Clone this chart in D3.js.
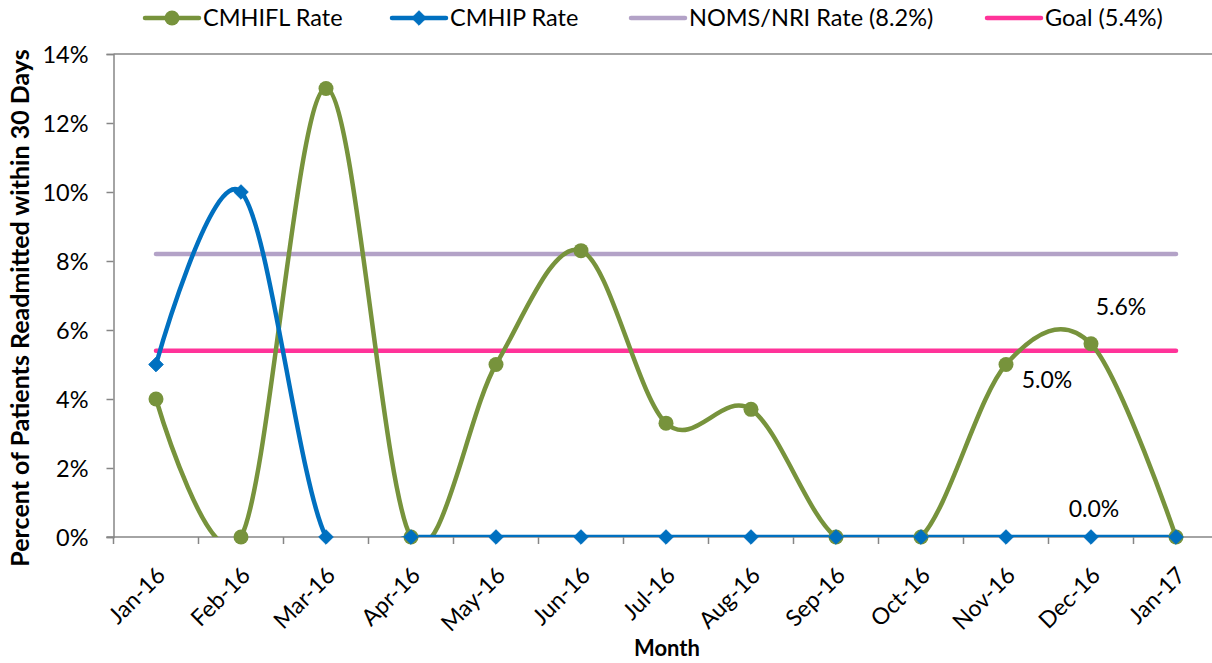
<!DOCTYPE html>
<html>
<head>
<meta charset="utf-8">
<script src="https://cdn.jsdelivr.net/npm/d3@7"></script>
<style>
  body { margin: 0; background: #fff; }
  svg text { font-family: Lato, "Open Sans", sans-serif; fill: #000; }
</style>
</head>
<body>
<svg id="chart" width="1212" height="663"></svg>
<script>
"use strict";

// 데이터
const months = ["Jan-16", "Feb-16", "Mar-16", "Apr-16", "May-16", "Jun-16", "Jul-16",
  "Aug-16", "Sep-16", "Oct-16", "Nov-16", "Dec-16", "Jan-17"];
const cmhiflRate = [4.0, 0, 13.0, 0, 5.0, 8.3, 3.3, 3.7, 0, 0, 5.0, 5.6, 0];
const cmhipRate = [5.0, 10.0, 0, 0, 0, 0, 0, 0, 0, 0, 0, 0, 0];
const nomsRate = 8.2;
const goalRate = 5.4;
const yTicks = [0, 2, 4, 6, 8, 10, 12, 14];
const legendNames = ["CMHIFL Rate", "CMHIP Rate", "NOMS/NRI Rate (8.2%)", "Goal (5.4%)"];
// 데이터 라벨: [시리즈, 인덱스, 텍스트]
const dataLabels = [
  ["cmhifl", 10, "5.0%"],
  ["cmhifl", 11, "5.6%"],
  ["cmhip", 11, "0.0%"]
];

const green = "#77933C", blue = "#0070C0", lavender = "#B3A2C7", pink = "#FF3399";
const axisColor = "#868686";

const svg = d3.select("#chart");
const plotLeft = 113.5, plotRight = 1218.5, plotTop = 54, plotBottom = 537;

const x = d3.scaleBand().domain(months).range([plotLeft, plotRight]);
const cx = (m) => x(m) + x.bandwidth() / 2;
const y = d3.scaleLinear().domain([0, 14]).range([plotBottom, plotTop]);

// 클립 영역 (0% 아래로 내려가는 곡선 잘라내기)
svg.append("clipPath").attr("id", "plotClip")
  .append("rect")
  .attr("x", plotLeft).attr("y", plotTop - 20)
  .attr("width", plotRight - plotLeft).attr("height", plotBottom - plotTop + 20);

// 위쪽 테두리
svg.append("line")
  .attr("x1", plotLeft).attr("x2", plotRight)
  .attr("y1", plotTop).attr("y2", plotTop)
  .attr("stroke", axisColor).attr("stroke-width", 1.5);

// y축
const yAxis = svg.append("g")
  .attr("transform", `translate(${plotLeft},0)`)
  .call(d3.axisLeft(y).tickValues(yTicks).tickFormat((d) => d + "%").tickSize(7).tickPadding(18));
yAxis.select(".domain").attr("stroke", axisColor).attr("stroke-width", 1.5);
yAxis.selectAll(".tick line").attr("stroke", axisColor).attr("stroke-width", 1.5);
yAxis.selectAll(".tick text").style("font-size", "23.5px").attr("dy", "0.35em");

// x축 (눈금은 밴드 경계에)
const xAxisG = svg.append("g").attr("transform", `translate(0,${plotBottom})`);
xAxisG.append("line")
  .attr("x1", plotLeft - 7).attr("x2", plotRight)
  .attr("stroke", axisColor).attr("stroke-width", 1.5);
xAxisG.selectAll("line.tk")
  .data(months.concat(["end"]))
  .enter().append("line")
  .attr("class", "tk")
  .attr("x1", (d, i) => plotLeft + i * x.bandwidth())
  .attr("x2", (d, i) => plotLeft + i * x.bandwidth())
  .attr("y1", 0).attr("y2", 7)
  .attr("stroke", axisColor).attr("stroke-width", 1.5);
xAxisG.selectAll("text")
  .data(months)
  .enter().append("text")
  .attr("transform", (d) => `translate(${cx(d) + 5},${34}) rotate(-45)`)
  .attr("text-anchor", "end")
  .attr("dy", "0.35em")
  .style("font-size", "23px")
  .text((d) => d);

// 축 제목
svg.append("text")
  .attr("transform", "translate(29,308) rotate(-90)")
  .attr("text-anchor", "middle")
  .style("font-size", "25px").style("font-weight", "bold")
  .text("Percent of Patients Readmitted within 30 Days");
svg.append("text")
  .attr("x", 667).attr("y", 656)
  .attr("text-anchor", "middle")
  .style("font-size", "22px").style("font-weight", "bold")
  .text("Month");

const plot = svg.append("g").attr("clip-path", "url(#plotClip)");

// 기준선
[[nomsRate, lavender], [goalRate, pink]].forEach(([v, c]) => {
  plot.append("line")
    .attr("x1", cx(months[0])).attr("x2", cx(months[months.length - 1]))
    .attr("y1", y(v)).attr("y2", y(v))
    .attr("stroke", c).attr("stroke-width", 4.5).attr("stroke-linecap", "round");
});

const line = d3.line()
  .x((d, i) => cx(months[i]))
  .y((d) => y(d))
  .curve(d3.curveCardinal.tension(0));

plot.append("path").datum(cmhiflRate)
  .attr("d", line).attr("fill", "none")
  .attr("stroke", green).attr("stroke-width", 4.5);
plot.append("path").datum(cmhipRate)
  .attr("d", line).attr("fill", "none")
  .attr("stroke", blue).attr("stroke-width", 4.5);

// 마커
svg.selectAll("circle.fl")
  .data(cmhiflRate).enter().append("circle")
  .attr("class", "fl")
  .attr("cx", (d, i) => cx(months[i])).attr("cy", (d) => y(d))
  .attr("r", 7.5).attr("fill", green);
const diamond = d3.symbol().type(d3.symbolDiamond2).size(135);
svg.selectAll("path.ip")
  .data(cmhipRate).enter().append("path")
  .attr("class", "ip")
  .attr("d", diamond)
  .attr("transform", (d, i) => `translate(${cx(months[i])},${y(d)})`)
  .attr("fill", blue).attr("stroke", blue).attr("stroke-width", 1);

// 데이터 라벨
const seriesMap = { cmhifl: cmhiflRate, cmhip: cmhipRate };
const labelOffsets = { "5.0%": [41, 15], "5.6%": [30, -37], "0.0%": [3, -28] };
svg.selectAll("text.dl")
  .data(dataLabels).enter().append("text")
  .attr("class", "dl")
  .attr("x", (d) => cx(months[d[1]]) + labelOffsets[d[2]][0])
  .attr("y", (d) => y(seriesMap[d[0]][d[1]]) + labelOffsets[d[2]][1])
  .attr("text-anchor", "middle").attr("dy", "0.35em")
  .style("font-size", "23px")
  .text((d) => d[2]);

// 범례
const legendItems = [
  { name: legendNames[0], color: green, marker: "circle", x0: 145 },
  { name: legendNames[1], color: blue, marker: "diamond", x0: 392 },
  { name: legendNames[2], color: lavender, marker: null, x0: 631 },
  { name: legendNames[3], color: pink, marker: null, x0: 987 }
];
const lg = svg.selectAll("g.legend")
  .data(legendItems).enter().append("g")
  .attr("class", "legend")
  .attr("transform", (d) => `translate(${d.x0},18)`);
lg.append("line")
  .attr("x1", 0).attr("x2", 54)
  .attr("stroke", (d) => d.color).attr("stroke-width", 4.5).attr("stroke-linecap", "round");
lg.filter((d) => d.marker === "circle").append("circle")
  .attr("cx", 27).attr("r", 7.5).attr("fill", (d) => d.color);
lg.filter((d) => d.marker === "diamond").append("path")
  .attr("d", diamond).attr("transform", "translate(27,0)")
  .attr("fill", (d) => d.color).attr("stroke", (d) => d.color).attr("stroke-width", 1);
lg.append("text")
  .attr("x", 58).attr("dy", "0.35em")
  .style("font-size", "23.5px")
  .text((d) => d.name);
</script>
</body>
</html>
